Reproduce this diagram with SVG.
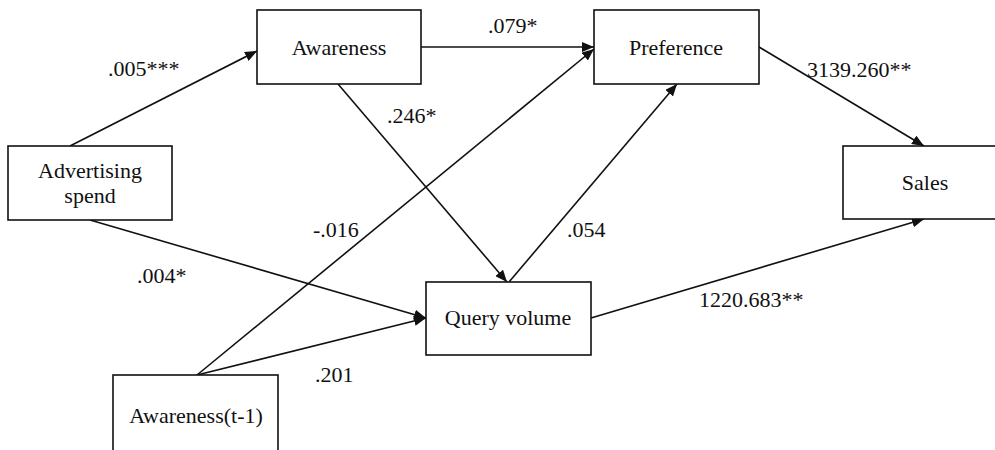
<svg xmlns="http://www.w3.org/2000/svg" width="995" height="450" viewBox="0 0 995 450">
<style>
.box{fill:#fff;stroke:#111;stroke-width:1.6}
.t{font-family:"Liberation Serif","Times New Roman",serif;font-size:22px;fill:#111}
.c{text-anchor:middle}
.e{fill:none;stroke:#111;stroke-width:1.6;marker-end:url(#ah)}
</style>
<defs>
<marker id="ah" markerUnits="userSpaceOnUse" markerWidth="12" markerHeight="10" refX="12" refY="5" orient="auto">
<path d="M0,0 L12,5 L0,10 z" fill="#111"/>
</marker>
</defs>
<rect width="995" height="450" fill="#fff"/>
<g id="connectors">
<line class="e" x1="70" y1="146" x2="257" y2="51"/>
<line class="e" x1="421" y1="47" x2="594" y2="47"/>
<line class="e" x1="338" y1="84" x2="507" y2="282"/>
<line class="e" x1="197" y1="375" x2="594" y2="49"/>
<line class="e" x1="197" y1="375" x2="426" y2="318"/>
<line class="e" x1="90" y1="220" x2="426" y2="318"/>
<line class="e" x1="509" y1="282" x2="677" y2="84"/>
<line class="e" x1="759" y1="47" x2="924" y2="146"/>
<line class="e" x1="591" y1="318" x2="924" y2="219"/>
</g>
<g id="advertising-spend">
<rect class="box" x="8" y="146" width="164" height="74"/>
<text class="t c" x="90" y="178">Advertising</text>
<text class="t c" x="90" y="203">spend</text>
</g>
<g id="awareness">
<rect class="box" x="257" y="10" width="164" height="74"/>
<text class="t c" x="339" y="55">Awareness</text>
</g>
<g id="preference">
<rect class="box" x="594" y="10" width="165" height="74"/>
<text class="t c" x="676" y="55">Preference</text>
</g>
<g id="sales">
<rect class="box" x="843" y="146" width="170" height="73"/>
<text class="t c" x="925" y="190">Sales</text>
</g>
<g id="query-volume">
<rect class="box" x="426" y="282" width="165" height="73"/>
<text class="t c" x="508" y="325">Query volume</text>
</g>
<g id="awareness-t-1">
<rect class="box" x="113" y="375" width="165" height="90"/>
<text class="t c" x="196" y="423">Awareness(t-1)</text>
</g>
<g id="labels">
<text class="t" x="108" y="76">.005***</text>
<text class="t" x="488" y="33">.079*</text>
<text class="t" x="387" y="123">.246*</text>
<text class="t" x="807" y="77">3139.260**</text>
<text class="t" x="313" y="237">-.016</text>
<text class="t" x="567" y="237">.054</text>
<text class="t" x="137" y="283">.004*</text>
<text class="t" x="315" y="382">.201</text>
<text class="t" x="699" y="307">1220.683**</text>
</g>
</svg>
